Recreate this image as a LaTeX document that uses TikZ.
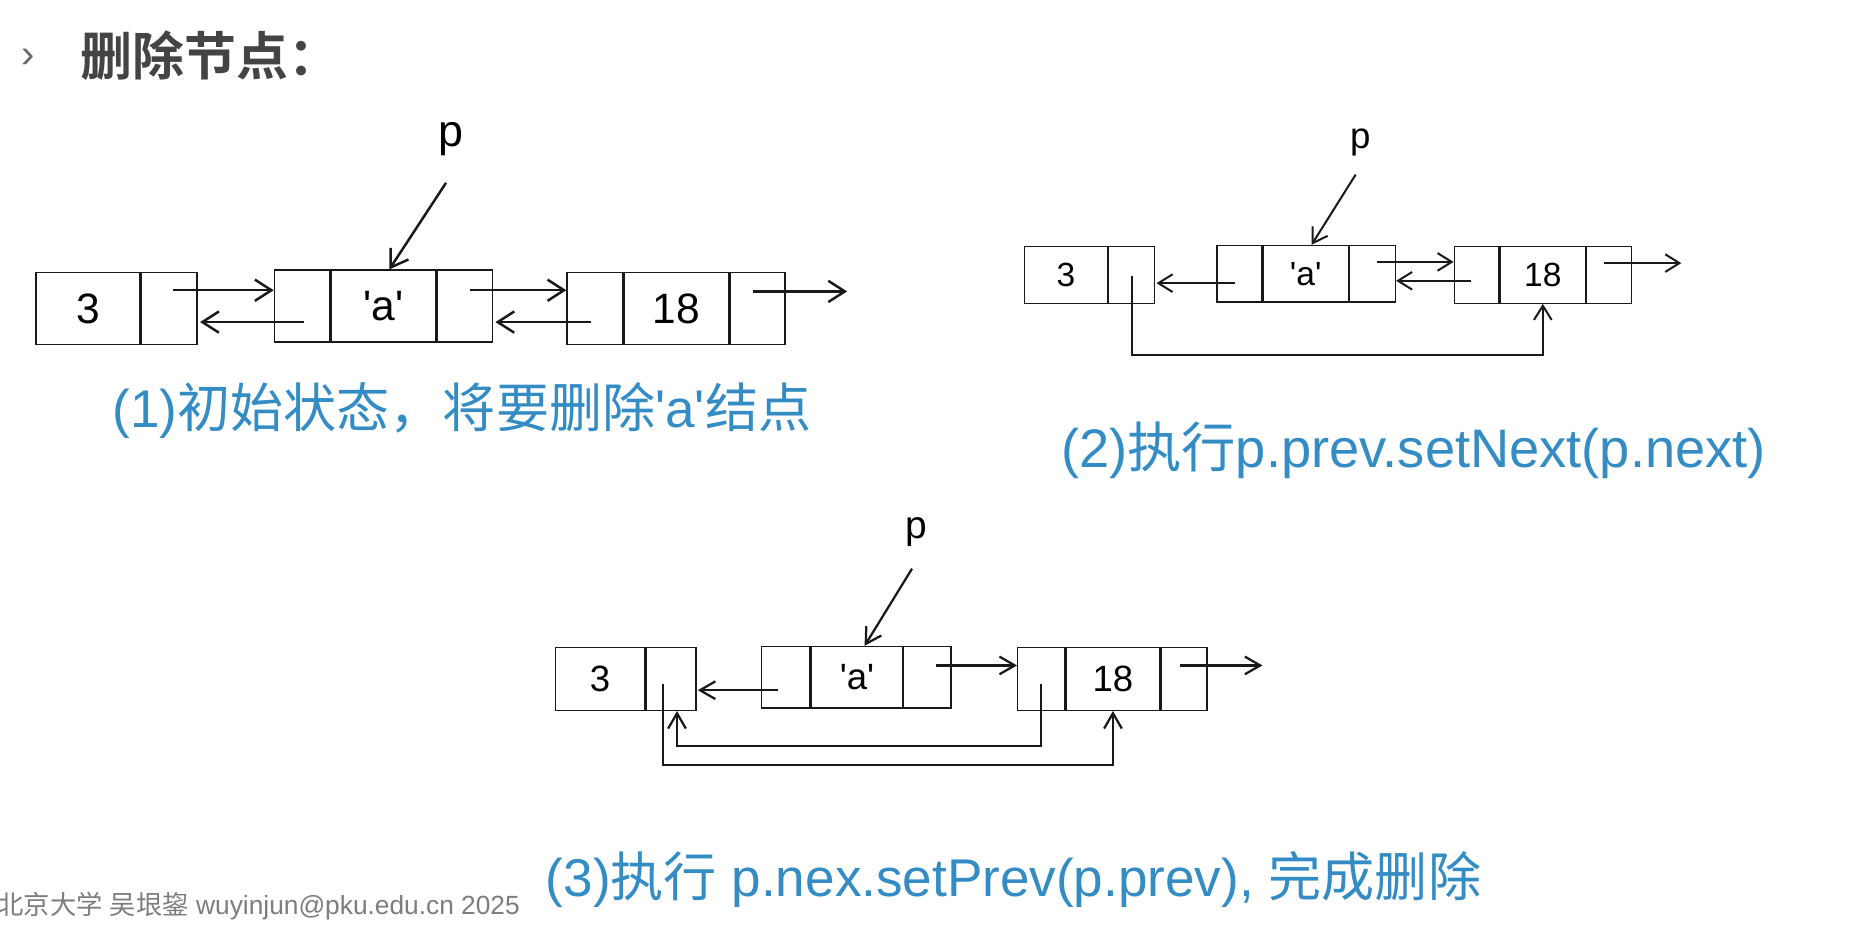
\documentclass[tikz,border=0pt]{standalone}
\usepackage{fontspec}
\setmainfont{Liberation Sans}
\newfontfamily\cjk{Noto Sans CJK SC}
\newfontfamily\cjkb{Noto Sans CJK SC Bold}
\usetikzlibrary{arrows.meta,calc}
\definecolor{capblue}{RGB}{52,140,197}
\definecolor{titlegray}{RGB}{68,68,70}
\definecolor{footgray}{RGB}{125,125,125}
\definecolor{linec}{RGB}{25,25,25}
\tikzset{
  cellA/.style={draw=linec, line width=0.65pt, inner sep=0pt, minimum height=30.5pt, anchor=west, font=\fontsize{18}{21}\selectfont},
  cellB/.style={draw=linec, line width=0.55pt, inner sep=0pt, minimum height=24pt, anchor=west, font=\fontsize{14.2}{17}\selectfont},
  cellC/.style={draw=linec, line width=0.6pt, inner sep=0pt, minimum height=26.5pt, anchor=west, font=\fontsize{15.5}{18}\selectfont},
  arrA/.style={draw=linec, line width=1.05pt, -{Straight Barb[length=7pt,width=9pt,line width=1.05pt]}},
  arrB/.style={draw=linec, line width=0.85pt, -{Straight Barb[length=6pt,width=7.5pt,line width=0.85pt]}},
  arrC/.style={draw=linec, line width=0.95pt, -{Straight Barb[length=6.5pt,width=7.5pt,line width=0.95pt]}},
  captext/.style={text=capblue, inner sep=0pt, font=\fontsize{22.5}{27}\selectfont},
  plabel/.style={inner sep=0pt},
}
\newcommand{\sq}{\textquotesingle}
\begin{document}
\begin{tikzpicture}[x=0.5pt, y=-0.5pt]
\useasboundingbox (0,0) rectangle (1568,785);
\fill[white] (0,0) rectangle (1568,785);

% title
\node[text=titlegray!80, inner sep=0pt, font=\fontsize{17}{20}\selectfont] (chev) at (23.5,49) {›};
\node[anchor=west, inner sep=0pt, text=titlegray, font=\fontsize{22}{26}\selectfont] (title) at (68,47) {\cjkb 删除节点：};

% ---------- diagram 1 ----------
\node[cellA, minimum width=44pt] (A1v) at (30,261.5) {3};
\node[cellA, minimum width=23.5pt] (A1n) at (A1v.east) {};
\node[cellA, minimum width=23.5pt] (B1p) at (232,259.5) {};
\node[cellA, minimum width=44pt] (B1v) at (B1p.east) {\sq a\sq};
\node[cellA, minimum width=23.5pt] (B1n) at (B1v.east) {};
\node[cellA, minimum width=23.5pt] (C1p) at (480,261.5) {};
\node[cellA, minimum width=44.5pt] (C1v) at (C1p.east) {18};
\node[cellA, minimum width=23pt] (C1n) at (C1v.east) {};
\draw[linec, line width=1.2pt] (C1v.north west) -- (C1v.south west);
\node[plabel, font=\fontsize{19}{22}\selectfont] (P1) at (382,118) {p};
\coordinate (E1) at (718,247);

\draw[arrA] ($(A1n.center)+(3.5,-15.5)$) -- ($(B1p.west)+(0,-13.5)$);
\draw[arrA] ($(B1p.center)+(1.5,13.5)$) -- ($(A1n.east)+(2,11.5)$);
\draw[arrA] ($(B1n.center)+(4.5,-13.5)$) -- ($(C1p.west)+(0,-15.5)$);
\draw[arrA] ($(C1p.center)+(-3.5,11.5)$) -- ($(B1n.east)+(2,13.5)$);
\draw[arrA] ($(C1n.center)+(-4,-14.5)$) -- (E1);
\draw[arrA] ($(P1)+(-4,37)$) -- ($(B1v.north)+(5,0)$);

\node[captext] (T1) at (391.5,348) {(1){\cjk 初始状态，将要删除}\sq a\sq{\cjk 结点}};

% ---------- diagram 2 ----------
\node[cellB, minimum width=35pt] (A2v) at (868,233) {3};
\node[cellB, minimum width=19.5pt] (A2n) at (A2v.east) {};
\node[cellB, minimum width=19pt] (B2p) at (1031,232) {};
\node[cellB, minimum width=36pt] (B2v) at (B2p.east) {\sq a\sq};
\node[cellB, minimum width=19.5pt] (B2n) at (B2v.east) {};
\node[cellB, minimum width=19pt] (C2p) at (1232,233) {};
\node[cellB, minimum width=36pt] (C2v) at (C2p.east) {18};
\node[cellB, minimum width=19pt] (C2n) at (C2v.east) {};
\draw[linec, line width=0.9pt] (C2v.north west) -- (C2v.south west);
\node[plabel, font=\fontsize{15.5}{18}\selectfont] (P2) at (1153,121) {p};
\coordinate (E2) at (1425,223);

\draw[arrB] ($(B2n.center)+(3.5,-10)$) -- ($(C2p.west)+(0,-11)$);
\draw[arrB] ($(C2p.center)+(-5,5)$) -- ($(B2n.east)+(0,6)$);
\draw[arrB] ($(B2p.center)+(-4,8)$) -- ($(A2n.east)+(1,7)$);
\draw[arrB] ($(C2n.center)+(-4,-10)$) -- (E2);
\draw[arrB] ($(A2n.center)+(0.5,1)$) |- ($(C2v.south)+(0,43)$) -- (C2v.south);
\draw[arrB] ($(P2)+(-4,27)$) -- ($(B2v.north)+(5,0)$);

\node[captext, font=\fontsize{23}{27}\selectfont] (T2) at (1198,382) {(2){\cjk 执行}p.prev.setNext(p.next)};

% ---------- diagram 3 ----------
\node[cellC, minimum width=38pt] (A3v) at (470,575.5) {3};
\node[cellC, minimum width=21pt] (A3n) at (A3v.east) {};
\node[cellC, minimum width=20.5pt, minimum height=26pt] (B3p) at (645,574) {};
\node[cellC, minimum width=38.5pt, minimum height=26pt] (B3v) at (B3p.east) {\sq a\sq};
\node[cellC, minimum width=20pt, minimum height=26pt] (B3n) at (B3v.east) {};
\node[cellC, minimum width=20pt] (C3p) at (862,575.5) {};
\node[cellC, minimum width=39.5pt] (C3v) at (C3p.east) {18};
\node[cellC, minimum width=19.5pt] (C3n) at (C3v.east) {};
\draw[linec, line width=1.1pt] (C3v.north west) -- (C3v.south west);
\node[plabel, font=\fontsize{16.5}{19}\selectfont] (P3) at (777,451) {p};
\coordinate (E3) at (1070,564);

\draw[arrC] ($(B3n.center)+(7,-10)$) -- ($(C3p.west)+(0,-11.5)$);
\draw[arrC] ($(B3p.center)+(-6.5,11)$) -- ($(A3n.east)+(1,9.5)$);
\draw[arrC] ($(C3n.center)+(-3.5,-11.5)$) -- (E3);
\draw[arrC] ($(C3p.center)+(0,4.5)$) |- ($(A3n.south)+(5,30)$) -- ($(A3n.south)+(5,0)$);
\draw[arrC] ($(A3n.center)+(-7,4.5)$) |- ($(C3v.south)+(0,46)$) -- (C3v.south);
\draw[arrC] ($(P3)+(-4,31)$) -- ($(B3v.north)+(6.5,0)$);

\node[captext] (T3) at (859,745) {(3){\cjk 执行} p.nex.setPrev(p.prev), {\cjk 完成删除}};

% footer
\node[anchor=east, inner sep=0pt, text=footgray, font=\fontsize{11.15}{14}\selectfont] (foot) at (441,768) {{\cjk 北京大学} {\cjk 吴垠鋆} wuyinjun@pku.edu.cn 2025};
\end{tikzpicture}
\end{document}
